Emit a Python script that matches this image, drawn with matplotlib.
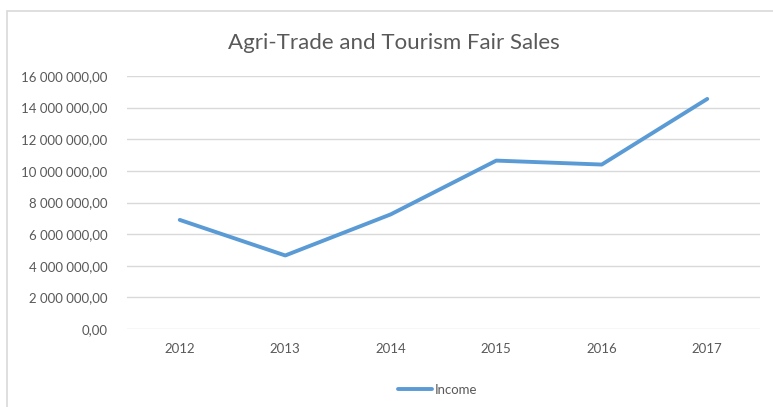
import matplotlib.pyplot as plt
from matplotlib.patches import Rectangle
from matplotlib.ticker import FuncFormatter

years = ["2012", "2013", "2014", "2015", "2016", "2017"]
income = [6900000, 4650000, 7250000, 10650000, 10400000, 14550000]

plt.rcParams['font.family'] = ['Lato', 'DejaVu Sans']

def fmt(v, pos):
    s = f"{v:,.2f}".replace(",", " ").replace(".", ",")
    return s

fig = plt.figure(figsize=(7.73, 4.07), dpi=100)
ax = fig.add_axes([127/773, 1-329/407, (760-127)/773, (329-76)/407])

# chart border
fig.patches.append(Rectangle((7/773, -0.05), 1.0, 1-10.5/407 + 0.05, transform=fig.transFigure,
                             fill=False, edgecolor='#d9d9d9', linewidth=1.2))

x = range(len(years))
ax.plot(x, income, color='#5b9bd5', linewidth=2.8, solid_capstyle='round',
        solid_joinstyle='round', label='Income')

ax.set_xlim(-0.5, len(years) - 0.5)
ax.set_ylim(0, 16000000)
ax.set_yticks(range(0, 16000001, 2000000))
ax.yaxis.set_major_formatter(FuncFormatter(fmt))
ax.set_xticks(list(x))
ax.set_xticklabels(years)
ax.grid(axis='y', color='#d9d9d9', linewidth=1)
ax.set_axisbelow(True)
for s in ax.spines.values():
    s.set_visible(False)
ax.tick_params(length=0, colors='#595959', labelsize=9.5)
ax.tick_params(axis='y', pad=14)
ax.tick_params(axis='x', pad=10)

fig.text(0.509, 1-43/407, "Agri-Trade and Tourism Fair Sales", ha='center', va='center',
         fontsize=16, color='#595959')

fig.legend(loc='center', bbox_to_anchor=(0.566, 1-390/407), frameon=False,
           fontsize=9.5, labelcolor='#595959', handlelength=2.6, handletextpad=0.15)

plt.savefig("out.png", dpi=100)
